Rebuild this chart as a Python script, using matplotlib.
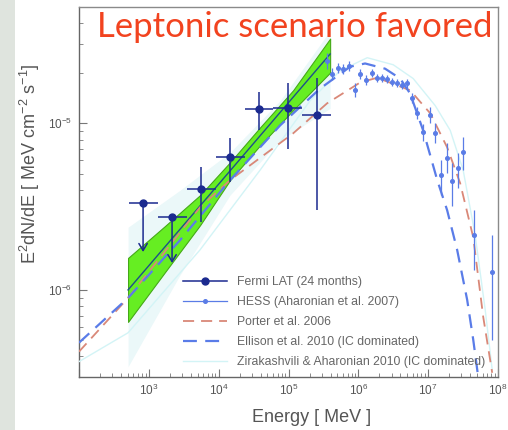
import numpy as np
import matplotlib
matplotlib.use("Agg")
import matplotlib.pyplot as plt
from matplotlib.patches import Rectangle
from matplotlib.lines import Line2D
from matplotlib.ticker import FuncFormatter

plt.rcParams['font.family'] = ['Liberation Sans', 'DejaVu Sans']
plt.rcParams['mathtext.fontset'] = 'custom'
plt.rcParams['mathtext.rm'] = 'Liberation Sans'
plt.rcParams['mathtext.it'] = 'Liberation Sans:italic'
plt.rcParams['mathtext.bf'] = 'Liberation Sans:bold'
plt.rcParams['lines.scale_dashes'] = False

# ---------------- data ----------------
# Fermi LAT (24 months): energy bins [MeV], E^2 dN/dE [MeV cm^-2 s^-1]
fermi_bin_edges = [513, 1334, 3467, 9016, 23440, 60950, 158500, 412000]
fermi_flux = [3.33e-6, 2.75e-6, 4.01e-6, 6.28e-6, 1.225e-5, 1.24e-5, 1.117e-5]
fermi_err_lo = [0.0, 0.0, 1.45e-6, 1.82e-6, 3.17e-6, 5.34e-6, 8.16e-6]
fermi_err_hi = [0.0, 0.0, 1.46e-6, 1.85e-6, 3.15e-6, 5.00e-6, 7.63e-6]
fermi_upper_limit = [True, True, False, False, False, False, False]
fermi_ul_arrow_tip = [1.69e-6, 1.45e-6]

# Fermi best-fit power law and its error butterfly
fit_energy = [504, 394500]
fit_flux = [1.0e-6, 2.61e-5]
bowtie_energy = [504, 1706, 5420, 14550, 39170, 116400, 394500]
bowtie_upper = [1.556e-6, 2.42e-6, 3.71e-6, 5.84e-6, 9.46e-6, 1.58e-5, 3.23e-5]
bowtie_lower = [6.43e-7, 1.28e-6, 2.45e-6, 4.56e-6, 7.38e-6, 1.20e-5, 2.02e-5]

# earlier (wider) LAT butterfly
wide_energy = [504, 2800, 14550, 75900, 394500]
wide_upper = [2.38e-6, 3.97e-6, 6.70e-6, 1.37e-5, 3.61e-5]
wide_lower = [3.46e-7, 1.23e-6, 3.71e-6, 7.91e-6, 1.23e-5]

# HESS (Aharonian et al. 2007)
hess_energy = [3.57e5, 4.22e5, 5.14e5, 6.06e5, 7.38e5, 9.0e5, 1.06e6, 1.29e6,
               1.58e6, 1.86e6, 2.19e6, 2.59e6, 3.05e6, 3.60e6, 4.25e6, 5.0e6,
               5.9e6, 6.95e6, 8.47e6, 1.07e7, 1.26e7, 1.53e7, 1.87e7, 2.21e7,
               2.69e7, 3.17e7, 4.56e7, 8.26e7]
hess_flux = [2.38e-5, 1.99e-5, 2.16e-5, 2.13e-5, 2.22e-5, 1.58e-5, 1.99e-5, 1.83e-5,
             2.02e-5, 1.88e-5, 1.88e-5, 1.86e-5, 1.78e-5, 1.76e-5, 1.69e-5, 1.74e-5,
             1.43e-5, 1.15e-5, 8.83e-6, 1.12e-5, 8.71e-6, 4.89e-6, 6.17e-6, 4.50e-6,
             5.38e-6, 6.70e-6, 2.13e-6, 1.28e-6]
hess_err_lo = [2.5e-6, 1.6e-6, 1.4e-6, 1.4e-6, 1.5e-6, 1.4e-6, 1.3e-6, 1.2e-6,
               1.1e-6, 1.0e-6, 1.0e-6, 1.0e-6, 1.0e-6, 1.0e-6, 0.9e-6, 1.2e-6,
               1.0e-6, 0.9e-6, 0.95e-6, 1.2e-6, 1.1e-6, 1.17e-6, 1.13e-6, 1.31e-6,
               1.29e-6, 1.48e-6, 0.81e-6, 0.78e-6]
hess_err_hi = [2.8e-6, 1.7e-6, 1.5e-6, 1.5e-6, 1.5e-6, 1.6e-6, 1.4e-6, 1.3e-6,
               1.1e-6, 1.1e-6, 1.1e-6, 1.0e-6, 1.0e-6, 1.0e-6, 1.0e-6, 1.2e-6,
               1.0e-6, 1.0e-6, 1.05e-6, 1.3e-6, 1.3e-6, 1.12e-6, 1.42e-6, 1.28e-6,
               1.23e-6, 1.54e-6, 0.88e-6, 0.86e-6]

# model curves (energy [MeV], E^2 dN/dE)
porter_energy = [1.0e2, 5.04e2, 5.42e3, 1.455e4, 1.164e5, 3.57e5, 1.06e6, 1.86e6,
                 5.52e6, 1.07e7, 1.87e7, 2.87e7, 4.42e7, 6.14e7, 8.26e7]
porter_flux = [4.26e-7, 8.95e-7, 3.14e-6, 4.56e-6, 8.71e-6, 1.32e-5, 1.76e-5, 1.88e-5,
               1.58e-5, 1.15e-5, 7.18e-6, 4.38e-6, 2.07e-6, 6.89e-7, 3.18e-7]

ellison_energy = [1.0e2, 5.04e2, 2.80e3, 1.455e4, 7.59e4, 2.84e5, 7.64e5, 1.25e6,
                  2.42e6, 3.97e6, 5.52e6, 8.47e6, 1.35e7, 1.87e7, 2.60e7,
                  3.62e7, 4.42e7, 5.20e7]
ellison_flux = [4.82e-7, 8.95e-7, 1.99e-6, 4.56e-6, 9.73e-6, 1.62e-5, 2.19e-5, 2.29e-5,
                2.13e-5, 1.86e-5, 1.51e-5, 9.08e-6, 4.56e-6, 3.01e-6, 1.74e-6,
                8.71e-7, 5.02e-7, 3.01e-7]

zira_energy = [1.0e2, 5.04e2, 5.41e3, 3.92e4, 2.04e5, 5.48e5, 1.34e6, 3.16e6,
               6.10e6, 1.26e7, 2.07e7, 3.17e7, 4.71e7, 6.56e7, 8.26e7]
zira_flux = [3.71e-7, 5.53e-7, 1.74e-6, 5.24e-6, 1.37e-5, 2.07e-5, 2.48e-5, 2.25e-5,
             1.86e-5, 1.28e-5, 9.08e-6, 5.24e-6, 2.13e-6, 7.59e-7, 3.32e-7]

# ---------------- styles ----------------
c_fermi = '#1b2a8f'
c_hess = '#5a7ce6'
c_porter = '#d98878'
c_ellison = '#5a7ce8'
c_zira = '#d3f4f6'
c_green = '#66ee22'
c_green_edge = '#45a818'
c_wide = '#ebf8f9'
c_text = '#555555'

fig = plt.figure(figsize=(5.08, 4.30), dpi=100)
fig.patch.set_facecolor('white')
fig.patches.append(Rectangle((0, 0), 15 / 508, 1, transform=fig.transFigure,
                             facecolor='#dfe4de', edgecolor='none', zorder=-10))

ax = fig.add_axes([79 / 508, 53 / 430, 419 / 508, 370 / 430])
ax.set_xscale('log')
ax.set_yscale('log')
ax.set_xlim(1e2, 1e8)
ax.set_ylim(3.0e-7, 5.0e-5)

# butterflies
ax.fill_between(wide_energy, wide_lower, wide_upper, color=c_wide, lw=0, zorder=1)
ax.fill_between(bowtie_energy, bowtie_lower, bowtie_upper, facecolor=c_green,
                edgecolor=c_green_edge, lw=0.8, zorder=2)
ax.plot(fit_energy, fit_flux, color='#1d4f8a', lw=1.0, zorder=3)

# models
zl, = ax.plot(zira_energy, zira_flux, color=c_zira, lw=1.0, zorder=3)
pl, = ax.plot(porter_energy, porter_flux, color=c_porter, lw=1.3, zorder=4)
pl.set_dashes((8, 5))
el, = ax.plot(ellison_energy, ellison_flux, color=c_ellison, lw=1.6, zorder=4)
el.set_dashes((10, 6))

# HESS points
ax.errorbar(hess_energy, hess_flux, yerr=[hess_err_lo, hess_err_hi], fmt='o',
            ms=2.6, color=c_hess, ecolor=c_hess, elinewidth=0.9, capsize=0, zorder=5)

# Fermi points
edges = np.array(fermi_bin_edges, dtype=float)
fe = np.sqrt(edges[:-1] * edges[1:])
xerr = [fe - edges[:-1], edges[1:] - fe]
ax.errorbar(fe, fermi_flux, xerr=xerr, yerr=[fermi_err_lo, fermi_err_hi], fmt='o',
            ms=5, color=c_fermi, ecolor=c_fermi, elinewidth=1.1, capsize=0, zorder=6)
k = 0
for e, f, ul in zip(fe, fermi_flux, fermi_upper_limit):
    if ul:
        ax.annotate('', xy=(e, fermi_ul_arrow_tip[k]), xytext=(e, f),
                    arrowprops=dict(arrowstyle='->,head_length=0.5,head_width=0.3',
                                    color=c_fermi, lw=1.1, shrinkA=0, shrinkB=0),
                    zorder=6)
        k += 1


def log_label(v, pos):
    if v < 5e2:
        return ''
    return r'$\mathdefault{10^{%d}}$' % int(round(np.log10(v)))


ax.xaxis.set_major_formatter(FuncFormatter(log_label))

# axes styling
for s in ax.spines.values():
    s.set_color('#8a8a8a')
    s.set_linewidth(1.0)
ax.spines['left'].set_color('#666666')
ax.spines['bottom'].set_color('#666666')
ax.tick_params(which='both', direction='in', colors='#777777', labelcolor=c_text,
               labelsize=8.5, top=False, right=False)
ax.tick_params(which='major', length=6, width=0.8)
ax.tick_params(which='minor', length=3, width=0.6)
ax.tick_params(axis='x', pad=4)
ax.tick_params(axis='y', pad=5)

fig.text(312 / 508, 1 - 417 / 430, 'Energy [ MeV ]', ha='center', va='center',
         fontsize=13, color=c_text)
fig.text(30 / 508, 1 - 164 / 430,
         r'E$^{2}$dN/dE [ MeV cm$^{-2}$ s$^{-1}$]', rotation=90,
         ha='center', va='center', fontsize=13, color=c_text)

fig.text(97 / 508, 1 - 37 / 430, 'Leptonic scenario favored', family='Lato',
         fontsize=25, color='#f2431f', ha='left', va='baseline', zorder=10)

handles = [
    Line2D([], [], color=c_fermi, lw=1.1, marker='o', ms=5),
    Line2D([], [], color=c_hess, lw=0.9, marker='o', ms=2.6),
    Line2D([], [], color=c_porter, lw=1.3, dashes=(8, 5)),
    Line2D([], [], color=c_ellison, lw=1.6, dashes=(10, 6)),
    Line2D([], [], color=c_zira, lw=1.0),
]
labels = ['Fermi LAT (24 months)', 'HESS (Aharonian et al. 2007)', 'Porter et al. 2006',
          'Ellison et al. 2010 (IC dominated)',
          'Zirakashvili & Aharonian 2010 (IC dominated)']
leg = ax.legend(handles, labels, loc='upper left',
                bbox_to_anchor=((183 - 79) / 419, (377 - 276) / 370),
                frameon=False, fontsize=8.8, handlelength=3.6, handletextpad=0.8,
                labelspacing=0.66, borderpad=0, borderaxespad=0, numpoints=1)
for t in leg.get_texts():
    t.set_color('#666666')

fig.savefig('out.png', dpi=100)
